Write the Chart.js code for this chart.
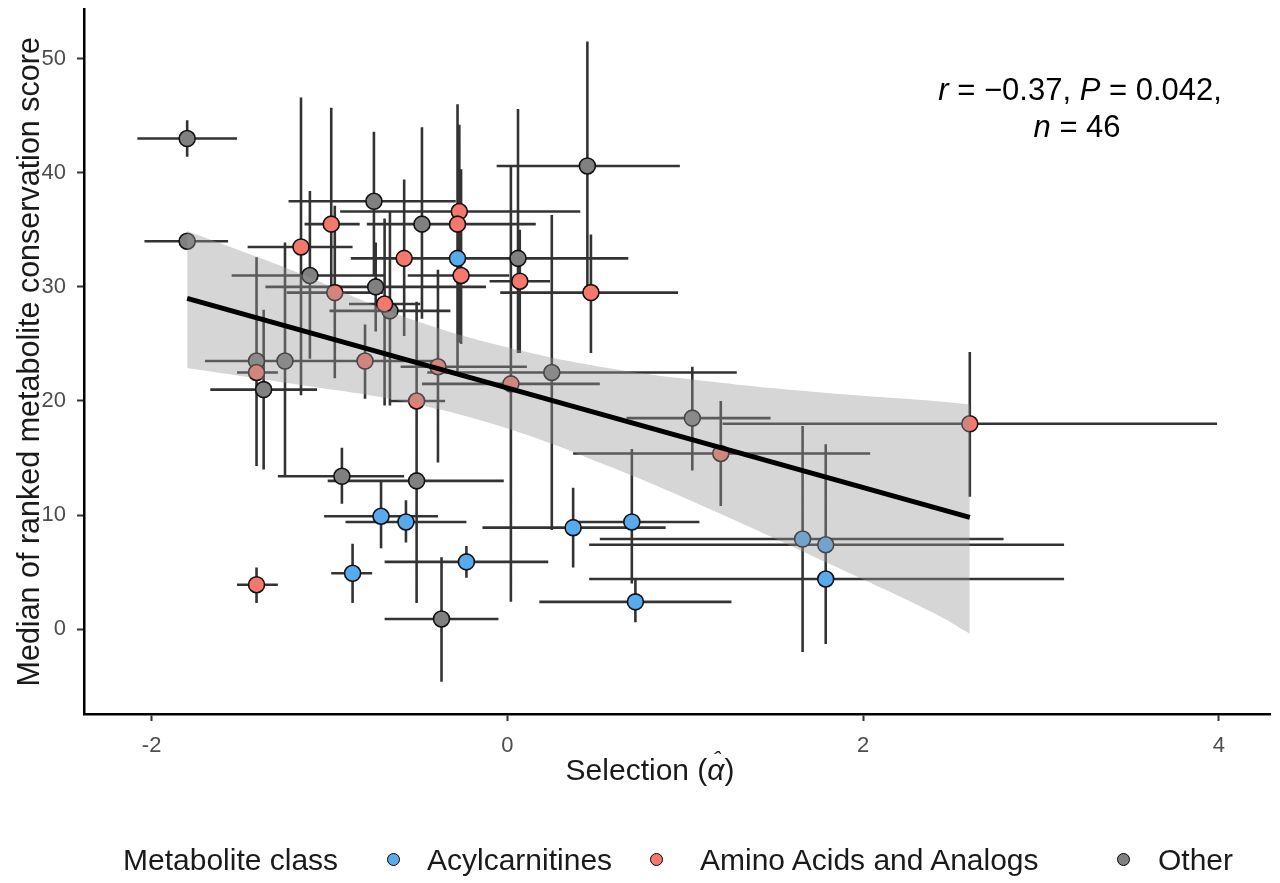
<!DOCTYPE html>
<html>
<head>
<meta charset="utf-8">
<script src="https://cdn.jsdelivr.net/npm/chart.js@4.4.1/dist/chart.umd.min.js"></script>
<style>
  body { margin: 0; background: #fff; }
  #wrap { position: relative; width: 1280px; height: 883px; font-family: "Liberation Sans", Arial, sans-serif; color: #1a1a1a; }
  #chart { position: absolute; left: 0; top: 0; }
  .lg { position: absolute; top: 842px; font-size: 30px; line-height: 36px; white-space: nowrap; }
  .dot { position: absolute; top: 853px; width: 11px; height: 11px; border: 1.5px solid #000; border-radius: 50%; }
</style>
</head>
<body>
<div id="wrap">
  <canvas id="chart" width="1280" height="883"></canvas>
  <span class="lg" style="left:123px">Metabolite class</span>
  <span class="dot" id="dot-acyl" style="left:387px"></span>
  <span class="lg" style="left:427px">Acylcarnitines</span>
  <span class="dot" id="dot-amino" style="left:650px"></span>
  <span class="lg" style="left:700px">Amino Acids and Analogs</span>
  <span class="dot" id="dot-other" style="left:1117px"></span>
  <span class="lg" style="left:1158px">Other</span>
</div>
<script>
// each row: [alpha, score, alphaLow, alphaHigh, scoreLow, scoreHigh]
const acylcarnitines = [
  [-0.28, 32.5, -0.50, 0.20, 26.0, 40.0],
  [-0.71, 9.9, -1.03, -0.39, 7.1, 12.9],
  [-0.57, 9.4, -0.91, -0.23, 7.6, 11.3],
  [-0.23, 5.9, -0.69, 0.23, 4.5, 7.3],
  [-0.87, 4.9, -0.99, -0.76, 2.3, 7.5],
  [0.37, 8.9, -0.14, 0.89, 5.4, 12.4],
  [0.70, 9.4, 0.37, 1.08, 4.0, 15.8],
  [0.72, 2.4, 0.18, 1.26, 0.6, 4.3],
  [1.66, 7.9, 0.52, 2.79, -2.0, 17.8],
  [1.79, 7.4, 0.46, 3.13, -1.3, 16.2],
  [1.79, 4.4, 0.46, 3.13, 1.0, 7.4],
];
const aminoAcids = [
  [-1.16, 33.5, -1.46, -0.87, 20.5, 46.6],
  [-0.99, 35.5, -1.14, -0.83, 29.0, 45.7],
  [-0.97, 29.5, -1.24, -0.70, 22.0, 37.1],
  [-0.58, 32.5, -0.88, -0.10, 25.7, 39.4],
  [-0.69, 28.5, -0.89, -0.49, 19.6, 36.0],
  [-0.27, 36.6, -0.94, 0.41, 25.1, 44.2],
  [-0.28, 35.5, -0.60, 0.16, 22.6, 46.0],
  [-0.26, 31.0, -0.56, 0.01, 25.0, 40.3],
  [0.07, 30.5, -0.10, 0.24, 24.2, 35.0],
  [0.47, 29.5, -0.04, 0.96, 24.2, 34.6],
  [-1.41, 22.5, -1.52, -1.29, 14.3, 24.5],
  [-0.80, 23.5, -0.89, -0.40, 20.2, 26.7],
  [-0.39, 23.0, -0.60, 0.11, 14.6, 31.5],
  [-0.51, 20.0, -0.66, -0.35, 12.5, 28.7],
  [0.02, 21.5, -0.48, 0.52, 2.4, 40.6],
  [1.20, 15.4, 0.37, 2.04, 10.8, 20.0],
  [2.60, 18.0, 1.21, 3.99, 11.6, 24.3],
  [-1.41, 3.9, -1.52, -1.29, 2.3, 5.4],
];
const other = [
  [-1.80, 43.0, -2.08, -1.52, 41.4, 44.6],
  [-1.80, 34.0, -2.04, -1.57, 33.6, 34.4],
  [-1.11, 31.0, -1.55, -0.69, 23.7, 38.4],
  [-0.75, 37.5, -1.23, -0.29, 31.0, 43.6],
  [-0.48, 35.5, -0.79, -0.29, 27.2, 44.0],
  [-0.74, 30.0, -1.36, -0.12, 26.1, 33.9],
  [-0.66, 27.9, -1.00, -0.32, 19.6, 36.6],
  [0.06, 32.5, -0.45, 0.68, 24.2, 45.6],
  [0.45, 40.6, -0.06, 0.97, 30.0, 51.5],
  [-1.41, 23.5, -1.70, -1.15, 14.5, 32.6],
  [-1.25, 23.5, -1.55, -0.85, 13.3, 33.9],
  [-1.37, 21.0, -1.67, -1.07, 14.0, 28.0],
  [0.25, 22.5, -0.45, 1.29, 8.7, 36.3],
  [1.04, 18.5, 0.67, 1.48, 13.9, 23.0],
  [-0.93, 13.4, -1.29, -0.58, 11.0, 15.9],
  [-0.51, 13.0, -1.01, -0.02, 2.3, 17.0],
  [-0.37, 0.9, -0.69, -0.05, -4.6, 6.3],
];

// lm fit and its 95% band
const fitX = [-1.8, 2.6];
const fitY = [29.0, 9.8];
const bandX = [-1.8, -1.2, -0.6, 0, 0.6, 1.2, 1.8, 2.4, 2.6];
const bandUpper = [34.9, 31.4, 27.5, 24.7, 22.8, 21.6, 20.7, 20.0, 19.7];
const bandLower = [22.9, 21.5, 20.0, 17.6, 14.1, 10.1, 5.8, 1.4, -0.4];

const xTicks = [-2, 0, 2, 4];
const yTicks = [0, 10, 20, 30, 40, 50];

const CLASS_COLORS = { acyl: "#58aaee", amino: "#f6786c", other: "#808080" };
const FONT = "Liberation Sans, Arial, sans-serif";

document.getElementById("dot-acyl").style.background = CLASS_COLORS.acyl;
document.getElementById("dot-amino").style.background = CLASS_COLORS.amino;
document.getElementById("dot-other").style.background = CLASS_COLORS.other;

const toPts = (rows) => rows.map((r) => ({ x: r[0], y: r[1] }));
const zip = (xs, ys) => xs.map((x, i) => ({ x, y: ys[i] }));

const errorBars = {
  id: "errorBars",
  beforeDatasetsDraw(chart) {
    const { ctx, chartArea: a, scales: { x, y } } = chart;
    ctx.save();
    ctx.beginPath();
    ctx.rect(a.left, a.top, a.right - a.left, a.bottom - a.top);
    ctx.clip();
    ctx.strokeStyle = "#333333";
    ctx.lineWidth = 2.6;
    ctx.beginPath();
    [acylcarnitines, aminoAcids, other].forEach((rows) => {
      rows.forEach(([px, py, xlo, xhi, ylo, yhi]) => {
        const cx = x.getPixelForValue(px);
        const cy = y.getPixelForValue(py);
        ctx.moveTo(x.getPixelForValue(xlo), cy);
        ctx.lineTo(x.getPixelForValue(xhi), cy);
        ctx.moveTo(cx, y.getPixelForValue(ylo));
        ctx.lineTo(cx, y.getPixelForValue(yhi));
      });
    });
    ctx.stroke();
    ctx.restore();
  },
};

// draws [text, fontStyle] runs centred on cx; returns [left, width] of each run
function drawRuns(ctx, runs, cx, cy, size) {
  const widths = runs.map(([txt, style]) => {
    ctx.font = `${style} ${size}px ${FONT}`;
    return ctx.measureText(txt).width;
  });
  let left = cx - widths.reduce((s, w) => s + w, 0) / 2;
  const lefts = [];
  runs.forEach(([txt, style], i) => {
    ctx.font = `${style} ${size}px ${FONT}`;
    ctx.fillText(txt, left, cy);
    lefts.push([left, widths[i]]);
    left += widths[i];
  });
  return lefts;
}

const textLayer = {
  id: "textLayer",
  afterDraw(chart) {
    const { ctx, scales: { x, y } } = chart;
    ctx.save();
    ctx.fillStyle = "#000";
    ctx.textBaseline = "middle";
    ctx.textAlign = "left";
    // stats annotation
    const ax = x.getPixelForValue(3.22);
    const ay = y.getPixelForValue(47.1);
    drawRuns(ctx, [["r", "italic"], [" = \u22120.37, ", "normal"], ["P", "italic"], [" = 0.042,", "normal"]], ax, ay, 31);
    drawRuns(ctx, [["n", "italic"], [" = 46", "normal"]], ax - 3, ay + 37, 31);
    // x axis title, alpha with a hat
    ctx.fillStyle = "#1a1a1a";
    const runs = drawRuns(ctx, [["Selection (", "normal"], ["\u03b1", "italic"], [")", "normal"]], 650, 772, 30);
    const [al, aw] = runs[1];
    ctx.font = `italic 22px ${FONT}`;
    ctx.textAlign = "center";
    ctx.fillText("\u02c6", al + aw / 2 + 1, 761);
    ctx.restore();
  },
};

const axisCommon = {
  grid: { drawOnChartArea: false, drawTicks: true, tickLength: 7, tickColor: "#333333", tickWidth: 2 },
  border: { display: true, color: "#000", width: 2.5 },
};

new Chart(document.getElementById("chart"), {
  type: "scatter",
  data: {
    datasets: [
      { label: "Acylcarnitines", data: toPts(acylcarnitines), backgroundColor: CLASS_COLORS.acyl, order: 5 },
      { label: "Amino Acids and Analogs", data: toPts(aminoAcids), backgroundColor: CLASS_COLORS.amino, order: 4 },
      { label: "Other", data: toPts(other), backgroundColor: CLASS_COLORS.other, order: 6 },
      {
        type: "line", label: "upper", data: zip(bandX, bandUpper), order: 2,
        borderWidth: 0, pointRadius: 0, tension: 0.4, fill: "+1",
        backgroundColor: "rgba(153,153,153,0.4)",
      },
      {
        type: "line", label: "lower", data: zip(bandX, bandLower), order: 3,
        borderWidth: 0, pointRadius: 0, tension: 0.4, fill: false,
      },
      {
        type: "line", label: "fit", data: zip(fitX, fitY), order: 1,
        borderColor: "#000", borderWidth: 5, pointRadius: 0, fill: false,
      },
    ],
  },
  options: {
    responsive: false,
    animation: false,
    devicePixelRatio: 1,
    layout: { padding: { left: 0, right: 8, top: 8, bottom: 0 } },
    elements: { point: { radius: 8, borderWidth: 1.6, borderColor: "#111", hoverRadius: 8 } },
    plugins: { legend: { display: false }, tooltip: { enabled: false } },
    scales: {
      x: {
        ...axisCommon,
        min: -2.38,
        max: 4.29,
        afterBuildTicks: (s) => { s.ticks = xTicks.map((v) => ({ value: v })); },
        afterFit: (s) => { s.height = 169; s.paddingLeft = 0; s.paddingRight = 0; },
        ticks: { color: "#4d4d4d", padding: 12, font: { size: 22, family: FONT } },
      },
      y: {
        ...axisCommon,
        min: -7.43,
        max: 54.3,
        afterBuildTicks: (s) => { s.ticks = yTicks.map((v) => ({ value: v })); },
        afterFit: (s) => { s.width = 84; s.paddingTop = 0; s.paddingBottom = 0; },
        ticks: { color: "#4d4d4d", padding: 11, font: { size: 22, family: FONT } },
        title: {
          display: true,
          text: "Median of ranked metabolite conservation score",
          color: "#1a1a1a",
          font: { size: 30.5, family: FONT },
          padding: { top: 12, bottom: 0 },
        },
      },
    },
  },
  plugins: [errorBars, textLayer],
});
</script>
</body>
</html>
